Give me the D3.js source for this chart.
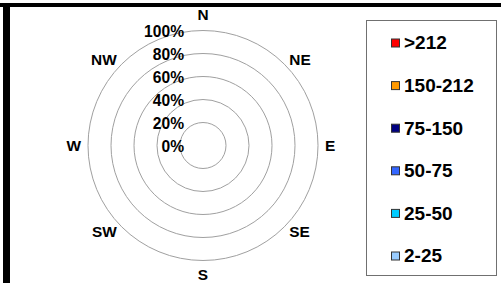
<!DOCTYPE html>
<html>
<head>
<meta charset="utf-8">
<script src="https://cdn.jsdelivr.net/npm/d3@7"></script>
<style>
	body { margin: 0; background: #fff; }
	text { font-family: "Liberation Sans", Arial, sans-serif; font-weight: bold; fill: #000; }
</style>
</head>
<body>
<div id="chart"></div>
<script>
// compass directions, clockwise from north
var directions = [ "N", "NE", "E", "SE", "S", "SW", "W", "NW" ];
// radial axis ticks (percent)
var ringTicks = [ 0, 20, 40, 60, 80, 100 ];
// legend classes and their colours
var speedClasses = [ ">212", "150-212", "75-150", "50-75", "25-50", "2-25" ];
var speedColors = [ "#ff0000", "#ff9900", "#000080", "#3366ff", "#00ccff", "#99ccff" ];

var width = 501, height = 283;
var cx = 203, cy = 145.5;

function createSvg(div) {
	var svg = d3.select("#" + div).append("svg").attr("width", width)
			.attr("height", height);
	// black frame along the top and left edges
	svg.append("rect").attr("x", 0).attr("y", 3).attr("width", width)
			.attr("height", 4).attr("fill", "#000");
	svg.append("rect").attr("x", 3).attr("y", 3).attr("width", 7)
			.attr("height", height - 3).attr("fill", "#000");
	return svg;
}

function drawRings(svg, r) {
	var g = svg.append("g").attr("transform", "translate(" + cx + "," + cy + ")");
	g.selectAll("circle.ring").data(ringTicks.filter(function(d) {
		return d > 0;
	})).enter().append("circle").attr("class", "ring").attr("r", function(d) {
		return r(d);
	}).attr("fill", "none").attr("stroke", "#a0a0a0").attr("stroke-width", 1);

	g.selectAll("text.tick").data(ringTicks).enter().append("text")
			.attr("class", "tick").attr("x", -19).attr("y", function(d) {
				return -r(d) + 6.5;
			}).attr("text-anchor", "end").style("font-size", "15.6px").text(
					function(d) {
						return d + "%";
					});
}

function drawDirections(svg) {
	var angle = d3.scalePoint().domain(directions).range([ 0, 315 ]);
	var labelRadius = 122;
	svg.append("g").selectAll("text").data(directions).enter().append("text")
			.attr("x", function(d) {
				return cx + labelRadius * Math.sin(angle(d) * Math.PI / 180);
			}).attr("y", function(d) {
				return cy - labelRadius * Math.cos(angle(d) * Math.PI / 180);
			}).attr("text-anchor", function(d) {
				var s = Math.sin(angle(d) * Math.PI / 180);
				return s > 0.01 ? "start" : (s < -0.01 ? "end" : "middle");
			}).attr("dy", function(d) {
				if (d == "N") return "-0.2em";
				if (d == "S") return "0.78em";
				return "0.36em";
			}).style("font-size", "15.4px").text(function(d) {
				return d;
			});
}

function drawLegend(svg) {
	svg.append("rect").attr("x", 366.5).attr("y", 20.5).attr("width", 130)
			.attr("height", 255).attr("fill", "#fff").attr("stroke", "#707070")
			.attr("stroke-width", 1);
	var y = d3.scalePoint().domain(speedClasses).range([ 42.5, 255.5 ]);
	var item = svg.append("g").selectAll("g").data(speedClasses).enter()
			.append("g").attr("transform", function(d) {
				return "translate(391," + y(d) + ")";
			});
	item.append("rect").attr("x", 0.5).attr("y", -3.5).attr("width", 8)
			.attr("height", 8).attr("fill", function(d, i) {
				return speedColors[i];
			}).attr("stroke", "#333").attr("stroke-width", 1);
	item.append("text").attr("x", 13).attr("dy", "0.36em").style("font-size",
			"19px").text(function(d) {
		return d;
	});
}

var svg = createSvg("chart");
var r = d3.scaleLinear().domain([ 0, 100 ]).range([ 0, 115 ]);
drawRings(svg, r);
drawDirections(svg);
drawLegend(svg);
</script>
</body>
</html>
